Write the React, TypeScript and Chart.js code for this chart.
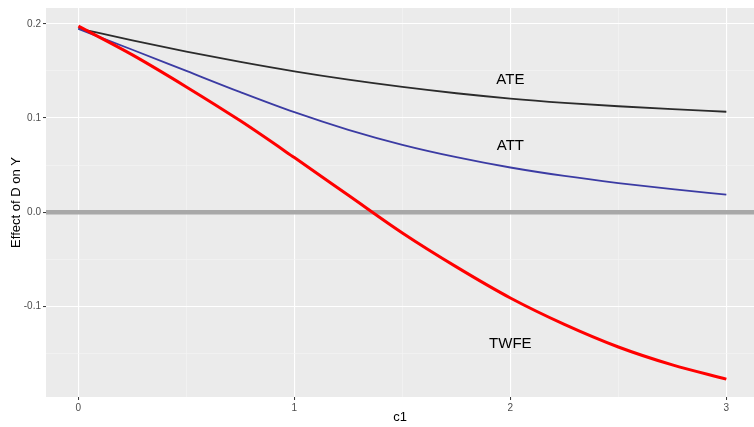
import React, { useEffect, useRef } from "react";
import { Chart, registerables } from "chart.js";

Chart.register(...registerables);

// ---- data ----
const c1Values = [0, 0.25, 0.5, 0.75, 1, 1.25, 1.5, 1.75, 2, 2.25, 2.5, 2.75, 3];
const ateValues = [0.195, 0.1825, 0.1705, 0.1595, 0.1495, 0.1407, 0.133, 0.1263, 0.1207, 0.1162, 0.1125, 0.1094, 0.1067];
const attValues = [0.1946, 0.1725, 0.150, 0.1275, 0.1062, 0.0875, 0.0716, 0.0585, 0.0475, 0.0385, 0.031, 0.0245, 0.0187];
const twfeValues = [0.1975, 0.167, 0.133, 0.097, 0.058, 0.018, -0.022, -0.058, -0.091, -0.119, -0.143, -0.162, -0.1771];

const hlineY = 0;
const xTicks = [0, 0.5, 1, 1.5, 2, 2.5, 3];
const xTickLabels = ["0", "", "1", "", "2", "", "3"];
const yTicks = [-0.15, -0.1, -0.05, 0, 0.05, 0.1, 0.15, 0.2];
const yTickLabels = ["", "-0.1", "", "0.0", "", "0.1", "", "0.2"];

const labelTexts = ["ATE", "ATT", "TWFE"];
const labelX = [2, 2, 2];
const labelY = [0.14, 0.07, -0.14];

const xMin = -0.15;
const xMax = 3.128;
const yMin = -0.1961;
const yMax = 0.2168;

const FONT = "'Liberation Sans', Arial, Helvetica, sans-serif";

const toPts = (ys: number[]) => c1Values.map((x, i) => ({ x, y: ys[i] }));

const panelBg = {
  id: "panelBg",
  beforeDraw(chart: any) {
    const { ctx, chartArea } = chart;
    ctx.save();
    ctx.fillStyle = "#EBEBEB";
    ctx.fillRect(chartArea.left, chartArea.top, chartArea.right - chartArea.left, chartArea.bottom - chartArea.top);
    ctx.restore();
  },
};

const textLabels = {
  id: "textLabels",
  afterDatasetsDraw(chart: any) {
    const { ctx, scales } = chart;
    ctx.save();
    ctx.fillStyle = "#000000";
    ctx.font = `15px ${FONT}`;
    ctx.textAlign = "center";
    ctx.textBaseline = "middle";
    labelTexts.forEach((t, i) => {
      ctx.fillText(t, scales.x.getPixelForValue(labelX[i]), scales.y.getPixelForValue(labelY[i]));
    });
    ctx.restore();
  },
};

export default function App() {
  const ref = useRef<HTMLCanvasElement | null>(null);

  useEffect(() => {
    if (!ref.current) return;
    const isMinorX = (v: number) => !Number.isInteger(v);
    const isMinorY = (v: number) => Math.abs(Math.round(v * 10) - v * 10) > 1e-6;

    const chart = new Chart(ref.current, {
      type: "line",
      data: {
        datasets: [
          {
            label: "zero",
            data: [{ x: xMin, y: hlineY }, { x: xMax, y: hlineY }],
            borderColor: "#A8A8A8",
            borderWidth: 4.5,
            pointRadius: 0,
            order: 10,
          },
          {
            label: "ATE",
            data: toPts(ateValues),
            borderColor: "#2B2B2B",
            borderWidth: 1.8,
            pointRadius: 0,
            cubicInterpolationMode: "monotone",
            order: 3,
          },
          {
            label: "ATT",
            data: toPts(attValues),
            borderColor: "#3B3BA3",
            borderWidth: 1.8,
            pointRadius: 0,
            cubicInterpolationMode: "monotone",
            order: 2,
          },
          {
            label: "TWFE",
            data: toPts(twfeValues),
            borderColor: "#FF0000",
            borderWidth: 3,
            pointRadius: 0,
            cubicInterpolationMode: "monotone",
            order: 1,
          },
        ],
      },
      options: {
        responsive: false,
        animation: false,
        devicePixelRatio: 1,
        layout: { padding: { top: 6, right: 0, left: 0, bottom: 0 } },
        plugins: {
          legend: { display: false },
          tooltip: { enabled: false },
        },
        scales: {
          x: {
            type: "linear",
            min: xMin,
            max: xMax,
            afterBuildTicks: (s: any) => {
              s.ticks = xTicks.map((v) => ({ value: v }));
            },
            afterFit: (s: any) => {
              s.height = 30;
            },
            border: { display: false },
            grid: {
              color: (c: any) => (isMinorX(c.tick.value) ? "#F5F5F5" : "#FFFFFF"),
              lineWidth: (c: any) => (isMinorX(c.tick.value) ? 0.6 : 1.1),
              tickColor: (c: any) => (isMinorX(c.tick.value) ? "rgba(0,0,0,0)" : "#333333"),
              tickLength: 3,
              tickWidth: 1,
            },
            ticks: {
              autoSkip: false,
              maxRotation: 0,
              padding: 2,
              color: "#4D4D4D",
              font: { family: FONT, size: 10 },
              callback: (_v: any, i: number) => xTickLabels[i],
            },
            title: {
              display: true,
              text: "c1",
              color: "#000000",
              font: { family: FONT, size: 13 },
              padding: { top: 0, bottom: 2 },
            },
          },
          y: {
            type: "linear",
            min: yMin,
            max: yMax,
            afterBuildTicks: (s: any) => {
              s.ticks = yTicks.map((v) => ({ value: v }));
            },
            afterFit: (s: any) => {
              s.width = 46;
            },
            border: { display: false },
            grid: {
              color: (c: any) => (isMinorY(c.tick.value) ? "#F5F5F5" : "#FFFFFF"),
              lineWidth: (c: any) => (isMinorY(c.tick.value) ? 0.6 : 1.1),
              tickColor: (c: any) => (isMinorY(c.tick.value) ? "rgba(0,0,0,0)" : "#333333"),
              tickLength: 3,
              tickWidth: 1,
            },
            ticks: {
              autoSkip: false,
              padding: 2,
              color: "#4D4D4D",
              font: { family: FONT, size: 10 },
              callback: (_v: any, i: number) => yTickLabels[i],
            },
            title: {
              display: true,
              text: "Effect of D on Y",
              color: "#000000",
              font: { family: FONT, size: 13 },
              padding: { top: 9, bottom: 0 },
            },
          },
        },
      },
      plugins: [panelBg, textLabels],
    } as any);

    return () => chart.destroy();
  }, []);

  return (
    <div style={{ position: "absolute", left: 0, top: 0, width: 754, height: 427, background: "#FFFFFF" }}>
      <canvas ref={ref} width={754} height={427} style={{ display: "block", width: 754, height: 427 }} />
    </div>
  );
}
